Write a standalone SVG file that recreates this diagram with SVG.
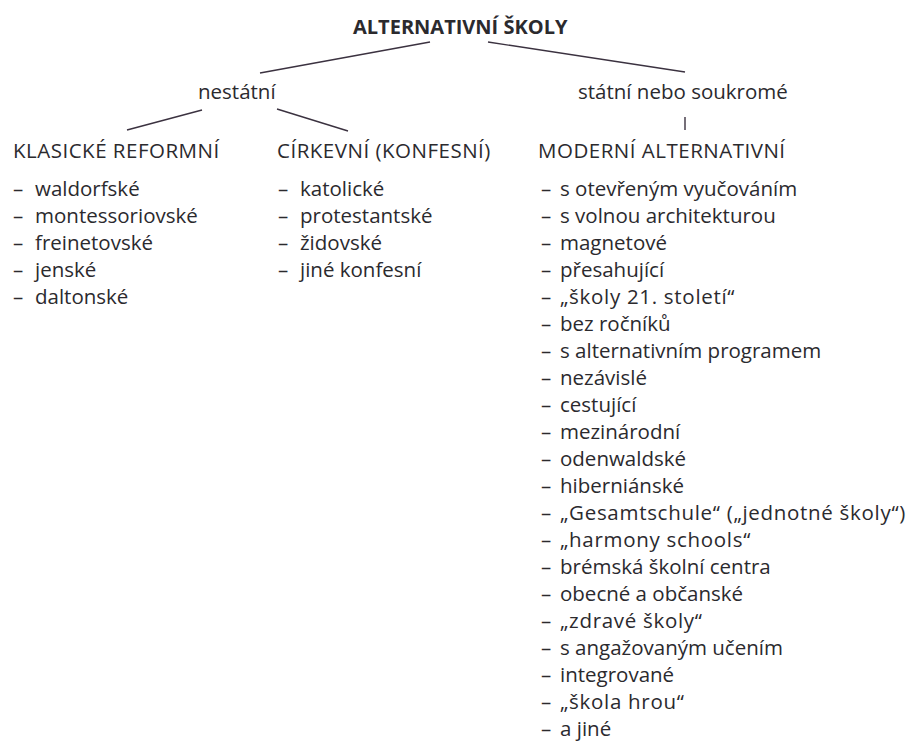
<svg xmlns="http://www.w3.org/2000/svg" width="910" height="742" viewBox="0 0 910 742">
<style>
text{font-family:"Open Sans","Noto Sans","DejaVu Sans",sans-serif;font-size:20.5px;fill:#2b2a2e}
.t{font-weight:bold;font-size:20px}
.h{letter-spacing:0.5px}
.q{letter-spacing:0.7px}
.c line{stroke:#3b3240;stroke-width:1.4}
</style>
<rect width="910" height="742" fill="#ffffff"/>
<g class="c" id="connectors">
<line x1="430" y1="42" x2="260" y2="73"/>
<line x1="488" y1="42" x2="685" y2="72"/>
<line x1="202" y1="110" x2="127" y2="130"/>
<line x1="277" y1="109" x2="348" y2="131"/>
<line x1="685" y1="117" x2="685" y2="130"/>
</g>
<g id="root"><text class="t" x="353" y="34">ALTERNATIVNÍ ŠKOLY</text></g>
<g id="nestatni"><text x="198" y="99">nestátní</text></g>
<g id="statni"><text x="578" y="99">státní nebo soukromé</text></g>
<g id="klasicke">
<text class="h" x="13" y="158">KLASICKÉ REFORMNÍ</text>
<text x="13" y="196">–</text><text x="35" y="196">waldorfské</text>
<text x="13" y="223">–</text><text x="35" y="223">montessoriovské</text>
<text x="13" y="250">–</text><text x="35" y="250">freinetovské</text>
<text x="13" y="277">–</text><text x="35" y="277">jenské</text>
<text x="13" y="304">–</text><text x="35" y="304">daltonské</text>
</g>
<g id="cirkevni">
<text class="h" x="277" y="158">CÍRKEVNÍ (KONFESNÍ)</text>
<text x="278" y="196">–</text><text x="300" y="196">katolické</text>
<text x="278" y="223">–</text><text x="300" y="223">protestantské</text>
<text x="278" y="250">–</text><text x="300" y="250">židovské</text>
<text x="278" y="277">–</text><text x="300" y="277">jiné konfesní</text>
</g>
<g id="moderni">
<text class="h" x="538" y="158">MODERNÍ ALTERNATIVNÍ</text>
<text x="541" y="196">–</text><text x="560" y="196">s otevřeným vyučováním</text>
<text x="541" y="223">–</text><text x="560" y="223">s volnou architekturou</text>
<text x="541" y="250">–</text><text x="560" y="250">magnetové</text>
<text x="541" y="277">–</text><text x="560" y="277">přesahující</text>
<text x="541" y="304">–</text><text class="q" x="560" y="304">„školy 21. století“</text>
<text x="541" y="331">–</text><text x="560" y="331">bez ročníků</text>
<text x="541" y="358">–</text><text x="560" y="358">s alternativním programem</text>
<text x="541" y="385">–</text><text x="560" y="385">nezávislé</text>
<text x="541" y="412">–</text><text x="560" y="412">cestující</text>
<text x="541" y="439">–</text><text x="560" y="439">mezinárodní</text>
<text x="541" y="466">–</text><text x="560" y="466">odenwaldské</text>
<text x="541" y="493">–</text><text x="560" y="493">hiberniánské</text>
<text x="541" y="520">–</text><text class="q" x="560" y="520">„Gesamtschule“ („jednotné školy“)</text>
<text x="541" y="547">–</text><text class="q" x="560" y="547">„harmony schools“</text>
<text x="541" y="574">–</text><text x="560" y="574">brémská školní centra</text>
<text x="541" y="601">–</text><text x="560" y="601">obecné a občanské</text>
<text x="541" y="628">–</text><text class="q" x="560" y="628">„zdravé školy“</text>
<text x="541" y="655">–</text><text x="560" y="655">s angažovaným učením</text>
<text x="541" y="682">–</text><text x="560" y="682">integrované</text>
<text x="541" y="709">–</text><text class="q" x="560" y="709">„škola hrou“</text>
<text x="541" y="736">–</text><text x="560" y="736">a jiné</text>
</g>
</svg>
